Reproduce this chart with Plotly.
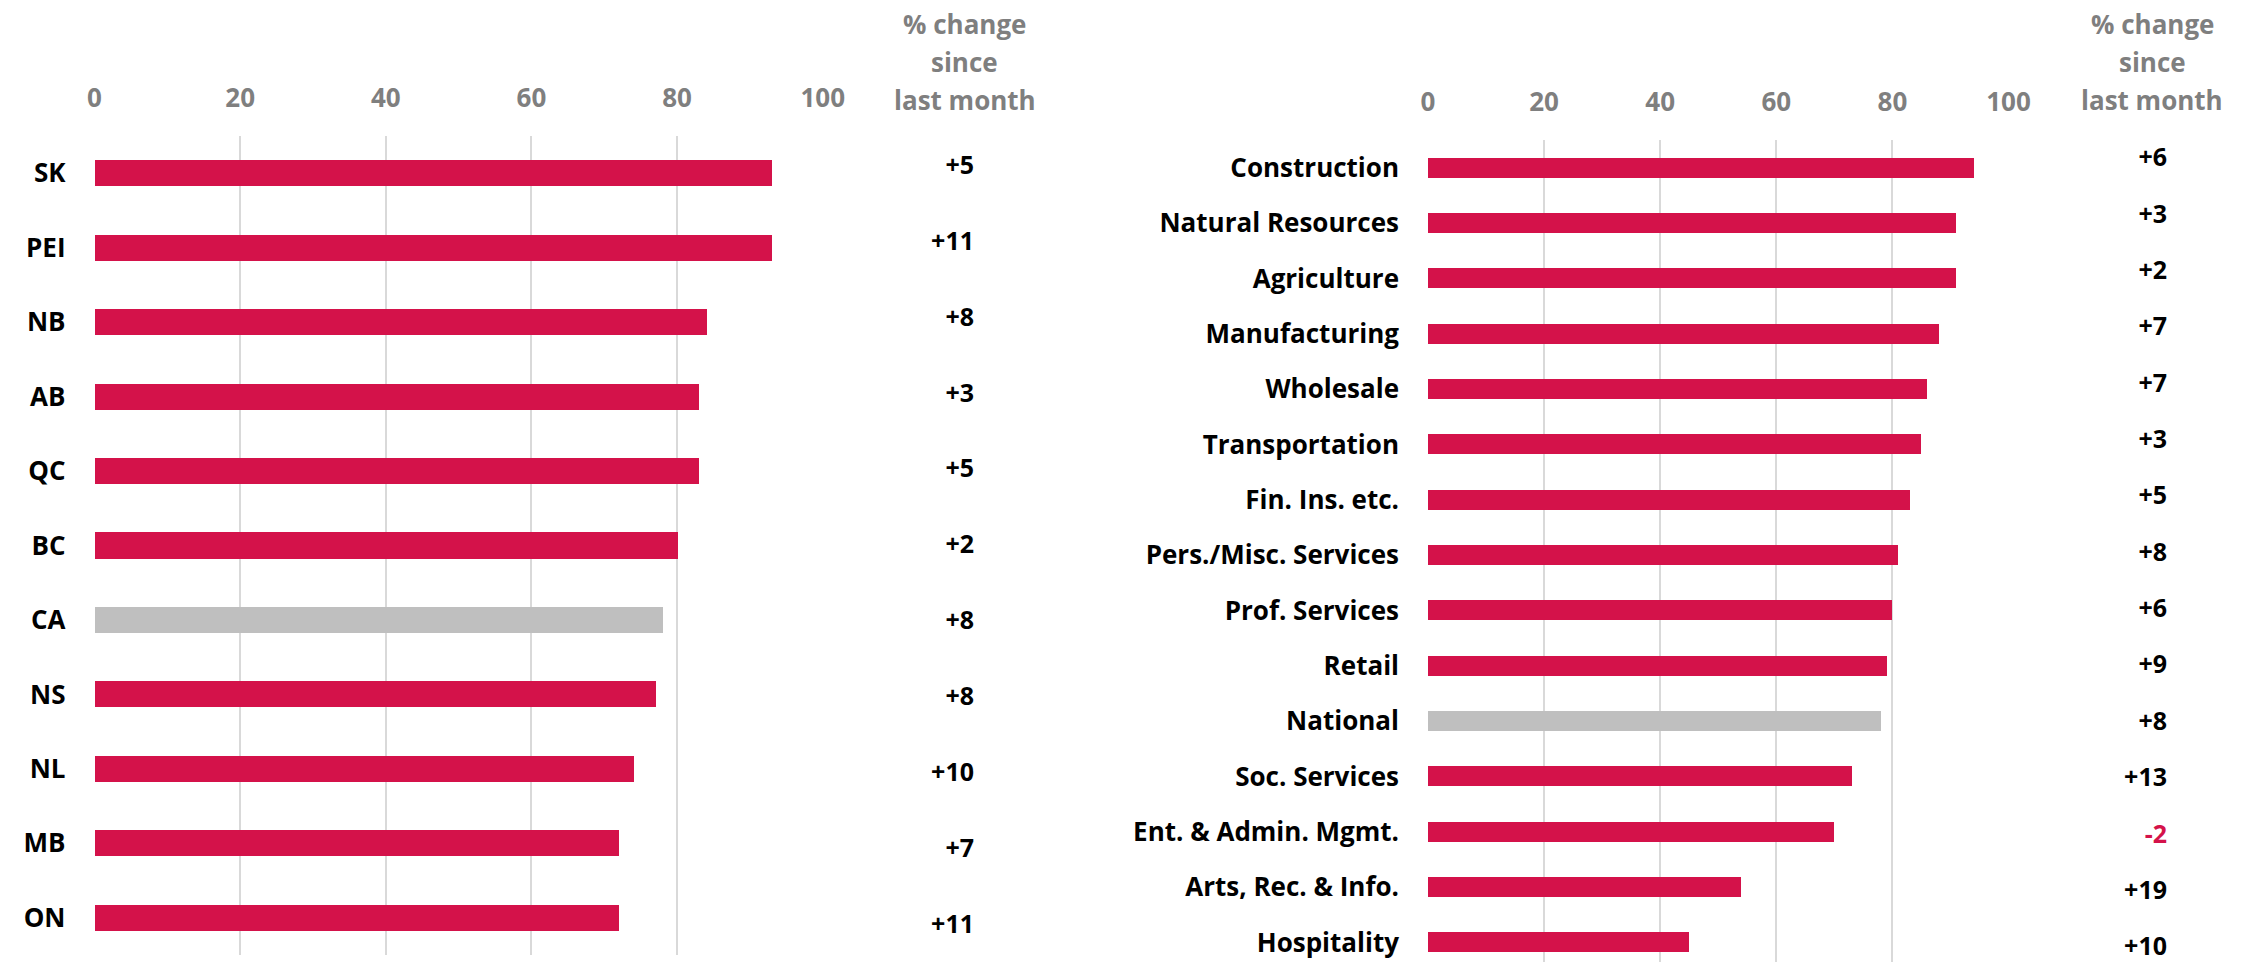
import plotly.graph_objects as go

# ---------------- data ----------------
provinces = ["SK", "PEI", "NB", "AB", "QC", "BC", "CA", "NS", "NL", "MB", "ON"]
province_values = [93, 93, 84, 83, 83, 80, 78, 77, 74, 72, 72]
province_change = [5, 11, 8, 3, 5, 2, 8, 8, 10, 7, 11]

industries = ["Construction", "Natural Resources", "Agriculture", "Manufacturing",
              "Wholesale", "Transportation", "Fin. Ins. etc.", "Pers./Misc. Services",
              "Prof. Services", "Retail", "National", "Soc. Services",
              "Ent. & Admin. Mgmt.", "Arts, Rec. & Info.", "Hospitality"]
industry_values = [94, 91, 91, 88, 86, 85, 83, 81, 80, 79, 78, 73, 70, 54, 45]
industry_change = [6, 3, 2, 7, 7, 3, 5, 8, 6, 9, 8, 13, -2, 19, 10]

x_ticks = [0, 20, 40, 60, 80, 100]
header_lines = ["% change", "since", "last month"]
totals = {"CA", "National"}

# ---------------- styles ----------------
W, H = 2250, 962
RED = "#D4124A"
GREY_BAR = "#BFBFBF"
GREY_TXT = "#7F7F7F"
GRID = "#D9D9D9"
FONT = "Open Sans"


def fmt(v):
    return f"+{v}" if v > 0 else f"{v}"


def px_x(p):
    return p / W


def px_y(p):
    return 1 - p / H


fig = go.Figure()

# Left panel bars
fig.add_trace(go.Bar(
    x=province_values, y=provinces, orientation="h",
    marker=dict(color=[GREY_BAR if c in totals else RED for c in provinces], line=dict(width=0)),
    width=0.35, xaxis="x", yaxis="y", hoverinfo="x+y", showlegend=False,
))
# Right panel bars
fig.add_trace(go.Bar(
    x=industry_values, y=industries, orientation="h",
    marker=dict(color=[GREY_BAR if c in totals else RED for c in industries], line=dict(width=0)),
    width=0.36, xaxis="x2", yaxis="y2", hoverinfo="x+y", showlegend=False,
))

# change labels
fig.add_trace(go.Scatter(
    x=[1] * len(provinces), y=provinces, mode="text",
    text=[fmt(v) for v in province_change], textposition="middle left",
    textfont=dict(family=FONT, size=25, weight="bold",
                  color=[RED if v < 0 else "black" for v in province_change]),
    xaxis="x3", yaxis="y3", showlegend=False, hoverinfo="skip", cliponaxis=False,
))
fig.add_trace(go.Scatter(
    x=[1] * len(industries), y=industries, mode="text",
    text=[fmt(v) for v in industry_change], textposition="middle left",
    textfont=dict(family=FONT, size=25, weight="bold",
                  color=[RED if v < 0 else "black" for v in industry_change]),
    xaxis="x4", yaxis="y4", showlegend=False, hoverinfo="skip", cliponaxis=False,
))

xcommon = dict(range=[0, 100], tickvals=x_ticks, side="top", showgrid=True,
               gridcolor=GRID, gridwidth=2, zeroline=False, showline=False,
               ticks="", ticklabelstandoff=23, automargin=False,
               tickfont=dict(family=FONT, size=26, color=GREY_TXT, weight="bold"),
               fixedrange=True)
ycommon = dict(type="category", showgrid=False, zeroline=False, showline=False,
               ticks="", ticklabelstandoff=28, automargin=False,
               tickfont=dict(family=FONT, size=26, color="black", weight="bold"),
               fixedrange=True)

left_dom_y = [px_y(955), px_y(136)]
right_dom_y = [0, px_y(140.3)]

fig.update_layout(
    width=W, height=H,
    margin=dict(l=0, r=0, t=0, b=0, autoexpand=False),
    paper_bgcolor="white", plot_bgcolor="white",
    bargap=0,
    font=dict(family=FONT),
    xaxis=dict(domain=[px_x(94.5), px_x(822.7)], anchor="y", **xcommon),
    yaxis=dict(domain=left_dom_y, anchor="x", range=[10.5, -0.5], **ycommon),
    xaxis2=dict(domain=[px_x(1428), px_x(2008.5)], anchor="y2", **xcommon),
    yaxis2=dict(domain=right_dom_y, anchor="x2", range=[14.35, -0.5], **ycommon),
    xaxis3=dict(domain=[px_x(900), px_x(974)], anchor="y3", range=[0, 1], visible=False,
                fixedrange=True, automargin=False),
    yaxis3=dict(domain=left_dom_y, anchor="x3", type="category", range=[10.376, -0.4185],
                visible=False, fixedrange=True, automargin=False),
    xaxis4=dict(domain=[px_x(2090), px_x(2167)], anchor="y4", range=[0, 1], visible=False,
                fixedrange=True, automargin=False),
    yaxis4=dict(domain=right_dom_y, anchor="x4", type="category", range=[14.231, -0.3495],
                visible=False, fixedrange=True, automargin=False),
)

annotations = []
for cx in (964.6, 2152):
    for line, cy in zip(header_lines, (24, 62, 100)):
        annotations.append(dict(
            x=px_x(cx), y=px_y(cy), xref="paper", yref="paper",
            xanchor="center", yanchor="middle", showarrow=False, text=line,
            font=dict(family=FONT, size=26, color=GREY_TXT, weight="bold"),
        ))
fig.update_layout(annotations=annotations)

fig.write_html(
    "out.html",
    config={"displayModeBar": False},
    post_script="document.body.style.margin='0';document.body.style.overflow='hidden';",
)
